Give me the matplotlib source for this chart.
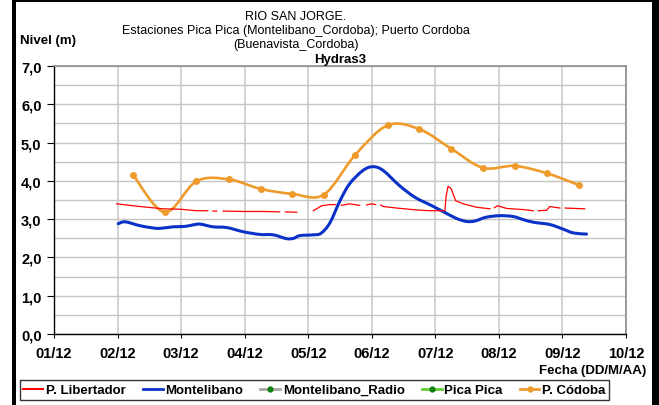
import numpy as np
import matplotlib
matplotlib.use('Agg')
from matplotlib import pyplot as plt
from matplotlib.path import Path
from matplotlib.patches import PathPatch, Rectangle
from matplotlib.lines import Line2D

plt.rcParams['font.family'] = ['Liberation Sans', 'DejaVu Sans']

month_labels = ['01/12', '02/12', '03/12', '04/12', '05/12',
                '06/12', '07/12', '08/12', '09/12', '10/12']
y_labels = ['0,0', '1,0', '2,0', '3,0', '4,0', '5,0', '6,0', '7,0']

# P. Libertador (gaps = missing records)
lib_x = [0.985, 1.35, 1.72, 1.98, 2.24, 2.42, np.nan,
         2.50, 2.56, np.nan,
         2.66, 3.00, 3.30, 3.55, np.nan,
         3.64, 3.82, np.nan,
         4.08, 4.21, 4.34, 4.43, np.nan,
         4.52, 4.65, 4.81, np.nan,
         4.92, 4.99, 5.06, np.nan,
         5.14, 5.18, 5.39, 5.70, 5.91, 6.15, 6.17, 6.20, 6.25, 6.32, 6.44, 6.65, 6.86, np.nan,
         6.93, 6.98, 7.12, 7.38, 7.54, np.nan,
         7.62, 7.75, 7.80, 7.96, np.nan,
         8.04, 8.35]
lib_y = [3.40, 3.33, 3.27, 3.26, 3.22, 3.22, np.nan,
         3.21, 3.21, np.nan,
         3.21, 3.20, 3.20, 3.19, np.nan,
         3.19, 3.18, np.nan,
         3.22, 3.35, 3.38, 3.38, np.nan,
         3.36, 3.40, 3.36, np.nan,
         3.37, 3.40, 3.38, np.nan,
         3.37, 3.33, 3.29, 3.24, 3.22, 3.22, 3.60, 3.86, 3.79, 3.48, 3.40, 3.31, 3.27, np.nan,
         3.30, 3.35, 3.28, 3.25, 3.22, np.nan,
         3.22, 3.23, 3.33, 3.29, np.nan,
         3.29, 3.27]

# Montelibano
mont_x = [1.01, 1.12, 1.35, 1.56, 1.67, 1.88, 2.06, 2.19, 2.30, 2.50, 2.72,
          2.98, 3.24, 3.45, 3.66, 3.77, 3.87, 4.08, 4.20, 4.34, 4.50, 4.65,
          4.86, 5.02, 5.18, 5.44, 5.68, 5.91, 6.12, 6.33, 6.49, 6.62, 6.80,
          7.01, 7.22, 7.38, 7.54, 7.80, 8.01, 8.17, 8.38]
mont_y = [2.88, 2.93, 2.83, 2.77, 2.76, 2.80, 2.81, 2.85, 2.87, 2.80, 2.78,
          2.67, 2.60, 2.59, 2.49, 2.50, 2.57, 2.59, 2.63, 2.90, 3.48, 3.92,
          4.27, 4.37, 4.27, 3.87, 3.57, 3.38, 3.20, 3.02, 2.94, 2.95, 3.05,
          3.09, 3.07, 2.99, 2.92, 2.86, 2.74, 2.64, 2.61]

# P. Cordoba
cor_x = [1.25, 1.745, 2.24, 2.75, 3.25, 3.75, 4.245, 4.74, 5.25, 5.75,
         6.25, 6.75, 7.25, 7.75, 8.26]
cor_y = [4.14, 3.18, 3.99, 4.04, 3.79, 3.66, 3.64, 4.68, 5.45, 5.35,
         4.84, 4.34, 4.39, 4.20, 3.89]

RED = '#ff0000'
BLUE = '#0a32c8'
ORANGE = '#ee9b2c'


def smooth_path(x, y):
    # Bezier through every point, like a spreadsheet "smoothed line"
    pts = np.column_stack([x, y])
    n = len(pts)
    verts = [pts[0]]
    codes = [Path.MOVETO]
    for i in range(n - 1):
        p0 = pts[max(i - 1, 0)]
        p1 = pts[i]
        p2 = pts[i + 1]
        p3 = pts[min(i + 2, n - 1)]
        verts += [p1 + (p2 - p0) / 6, p2 - (p3 - p1) / 6, p2]
        codes += [Path.CURVE4] * 3
    return Path(verts, codes)


fig = plt.figure(figsize=(6.59, 4.06), dpi=100)
W, H = 659, 406
ax = fig.add_axes([54 / W, 1 - 335 / H, (626 - 54) / W, (335 - 67) / H])

ax.set_xlim(0, 9)
ax.set_ylim(0, 7)
ax.set_xticks(range(10))
ax.set_xticklabels(month_labels, fontsize=10.5, fontweight='bold')
ax.set_yticks(range(8))
ax.set_yticklabels(y_labels, fontsize=10.5, fontweight='bold')
ax.set_yticks(np.arange(0.5, 7, 1.0), minor=True)
ax.tick_params(axis='x', direction='out', length=3, pad=6)
ax.tick_params(axis='y', direction='out', length=5, pad=4)
ax.tick_params(which='minor', length=0)

ax.grid(True, axis='x', color='#d2d2d2', linewidth=1.4)
ax.grid(True, axis='y', which='both', color='#c4c4c4', linewidth=1.0)
ax.set_axisbelow(True)
for side in ['top', 'right']:
    ax.spines[side].set_color('#8c8c8c')
    ax.spines[side].set_linewidth(1.2)
for side in ['left', 'bottom']:
    ax.spines[side].set_linewidth(1.0)

ax.plot(lib_x, lib_y, color=RED, linewidth=0.9)
ax.add_patch(PathPatch(smooth_path(mont_x, mont_y), facecolor='none',
                       edgecolor=BLUE, linewidth=2.2, capstyle='round'))
ax.add_patch(PathPatch(smooth_path(cor_x, cor_y), facecolor='none',
                       edgecolor=ORANGE, linewidth=1.9, capstyle='round'))
ax.plot(cor_x, cor_y, linestyle='none', marker='o', markersize=4,
        color=ORANGE)

ax.set_title('Hydras3', fontsize=9.5, fontweight='bold', pad=3)

fig.text(296 / W, 1 - 17 / H, 'RIO SAN JORGE.', ha='center', va='center',
         fontsize=9)
fig.text(296 / W, 1 - 31 / H,
         'Estaciones Pica Pica (Montelibano_Cordoba); Puerto Cordoba',
         ha='center', va='center', fontsize=9)
fig.text(296 / W, 1 - 45 / H, '(Buenavista_Cordoba)', ha='center',
         va='center', fontsize=9)
fig.text(20 / W, 1 - 41 / H, 'Nivel (m)', ha='left', va='center',
         fontsize=9.5, fontweight='bold')
fig.text(646 / W, 1 - 371 / H, 'Fecha (DD/M/AA)', ha='right', va='center',
         fontsize=9.5, fontweight='bold')

handles = [
    Line2D([], [], color=RED, linewidth=1.5),
    Line2D([], [], color=BLUE, linewidth=2.0),
    Line2D([], [], color='#a8a8a8', linewidth=2.0, marker='o',
           markersize=3.5, markerfacecolor='#108010', markeredgecolor='#108010'),
    Line2D([], [], color='#66cc33', linewidth=2.0, marker='o',
           markersize=3.5, markerfacecolor='#108010', markeredgecolor='#108010'),
    Line2D([], [], color=ORANGE, linewidth=2.0, marker='o', markersize=3.5),
]
labels = ['P. Libertador', 'Montelibano', 'Montelibano_Radio', 'Pica Pica',
          'P. Códoba']
leg = fig.legend(handles, labels, loc='center',
                 bbox_to_anchor=((22 + 607) / 2 / W, 1 - 391 / H),
                 ncol=5, prop={'weight': 'bold', 'size': 9.5},
                 frameon=True, fancybox=False, edgecolor='black',
                 handlelength=1.5, handletextpad=0.2, columnspacing=1.3,
                 borderpad=0.3)
leg.get_frame().set_linewidth(1.0)

# black outer frame
fig.patches.append(Rectangle((12 / W, 0), 4 / W, 1, transform=fig.transFigure,
                             facecolor='black', edgecolor='none'))
fig.patches.append(Rectangle((12 / W, 1 - 3 / H), 1 - 12 / W, 3 / H,
                             transform=fig.transFigure, facecolor='black',
                             edgecolor='none'))
fig.patches.append(Rectangle((652 / W, 0), 7 / W, 1, transform=fig.transFigure,
                             facecolor='black', edgecolor='none'))

fig.savefig('out.png', dpi=100)
